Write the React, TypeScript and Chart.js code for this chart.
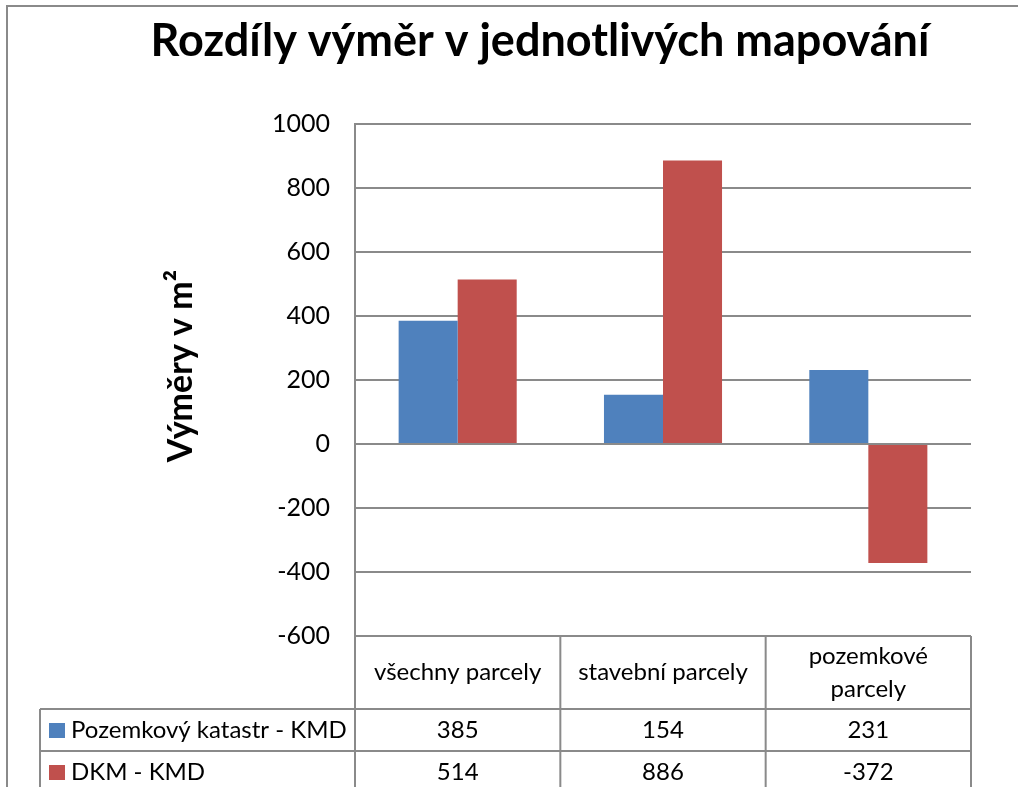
import { useEffect, useRef } from "react";
import { Chart, registerables } from "chart.js";

Chart.register(...registerables);

const chartTitle = "Rozdíly výměr v jednotlivých mapování";
const yAxisTitle = "Výměry v m²";
const categories = ["všechny parcely", "stavební parcely", "pozemkové parcely"];
const categoryLines = [["všechny parcely"], ["stavební parcely"], ["pozemkové", "parcely"]];
const seriesNames = ["Pozemkový katastr - KMD", "DKM - KMD"];
const pozemkovyValues = [385, 154, 231];
const dkmValues = [514, 886, -372];
const seriesColors = ["#4F81BD", "#C0504D"];
const yMin = -600;
const yMax = 1000;
const yStep = 200;

const LINE = "#8a8a8a";

const decorPlugin = {
  id: "excelDecor",
  afterDraw(chart: any) {
    const ctx = chart.ctx as CanvasRenderingContext2D;
    const { left, right, bottom } = chart.chartArea;
    const xs = chart.scales.x;
    const W = chart.width;
    const H = chart.height;
    ctx.save();
    // outer chart border
    ctx.strokeStyle = LINE;
    ctx.lineWidth = 2;
    ctx.beginPath();
    ctx.moveTo(7, H);
    ctx.lineTo(7, 6);
    ctx.lineTo(W, 6);
    ctx.stroke();

    // title
    ctx.fillStyle = "#000";
    ctx.font = "bold 45px Lato";
    ctx.textAlign = "center";
    ctx.textBaseline = "alphabetic";
    ctx.fillText(chartTitle, 540, 56);

    // y axis title
    ctx.save();
    ctx.translate(181, 366);
    ctx.rotate(-Math.PI / 2);
    ctx.font = "bold 34px Lato";
    ctx.textAlign = "center";
    ctx.textBaseline = "middle";
    ctx.fillText(yAxisTitle, 0, 0);
    ctx.restore();

    // data table
    const n = categories.length;
    const half = (xs.getPixelForValue(1) - xs.getPixelForValue(0)) / 2;
    const headerBottom = bottom + 73;
    const row1Bottom = headerBottom + 42;
    const labelLeft = 40;
    ctx.strokeStyle = LINE;
    ctx.lineWidth = 2;
    ctx.beginPath();
    ctx.moveTo(left, bottom);
    ctx.lineTo(right, bottom);
    ctx.moveTo(labelLeft, headerBottom);
    ctx.lineTo(right, headerBottom);
    ctx.moveTo(labelLeft, row1Bottom);
    ctx.lineTo(right, row1Bottom);
    for (let i = 0; i < n; i++) {
      const bx = xs.getPixelForValue(i) - half;
      ctx.moveTo(bx, bottom);
      ctx.lineTo(bx, H);
    }
    ctx.moveTo(right, bottom);
    ctx.lineTo(right, H);
    ctx.moveTo(labelLeft, headerBottom);
    ctx.lineTo(labelLeft, H);
    ctx.stroke();

    ctx.fillStyle = "#000";
    ctx.font = "24px Lato";
    ctx.textBaseline = "middle";
    ctx.textAlign = "center";
    const headerMid = (bottom + headerBottom) / 2;
    for (let i = 0; i < n; i++) {
      const cx = xs.getPixelForValue(i);
      const lines = categoryLines[i];
      const lh = 33;
      const y0 = headerMid - ((lines.length - 1) * lh) / 2;
      lines.forEach((t, k) => ctx.fillText(t, cx, y0 + k * lh));
    }
    const rows = [pozemkovyValues, dkmValues];
    const rowMids = [(headerBottom + row1Bottom) / 2, row1Bottom + 21];
    rows.forEach((vals, r) => {
      const ym = rowMids[r];
      vals.forEach((v, i) => {
        ctx.textAlign = "center";
        ctx.fillText(String(v), xs.getPixelForValue(i), ym);
      });
      ctx.fillStyle = seriesColors[r];
      ctx.fillRect(49, ym - 7, 16, 15);
      ctx.fillStyle = "#000";
      ctx.textAlign = "left";
      ctx.fillText(seriesNames[r], 71, ym);
    });
    ctx.restore();
  },
};

export default function App() {
  const ref = useRef<HTMLCanvasElement | null>(null);
  useEffect(() => {
    if (!ref.current) return;
    const chart = new Chart(ref.current, {
      type: "bar",
      data: {
        labels: categories,
        datasets: [
          {
            label: seriesNames[0],
            data: pozemkovyValues,
            backgroundColor: seriesColors[0],
            borderWidth: 0,
            categoryPercentage: 0.575,
            barPercentage: 1,
          },
          {
            label: seriesNames[1],
            data: dkmValues,
            backgroundColor: seriesColors[1],
            borderWidth: 0,
            categoryPercentage: 0.575,
            barPercentage: 1,
          },
        ],
      },
      options: {
        responsive: false,
        animation: false,
        devicePixelRatio: 1,
        layout: { padding: { top: 124, right: 47, bottom: 151, left: 0 } },
        plugins: {
          legend: { display: false },
          title: { display: false },
          tooltip: { enabled: false },
        },
        scales: {
          x: { display: false },
          y: {
            min: yMin,
            max: yMax,
            afterFit: (s: any) => {
              s.width = 355;
            },
            ticks: {
              stepSize: yStep,
              padding: 25,
              color: "#000",
              font: { family: "Lato", size: 25 },
              callback: (v: any) => String(v),
            },
            grid: { color: LINE, lineWidth: 2, drawTicks: false },
            border: { color: LINE, width: 2 },
          },
        },
      },
      plugins: [decorPlugin],
    });
    return () => chart.destroy();
  }, []);
  return (
    <div style={{ position: "absolute", left: 0, top: 0, width: 1018, height: 787, background: "#fff" }}>
      <canvas ref={ref} width={1018} height={787} />
    </div>
  );
}
